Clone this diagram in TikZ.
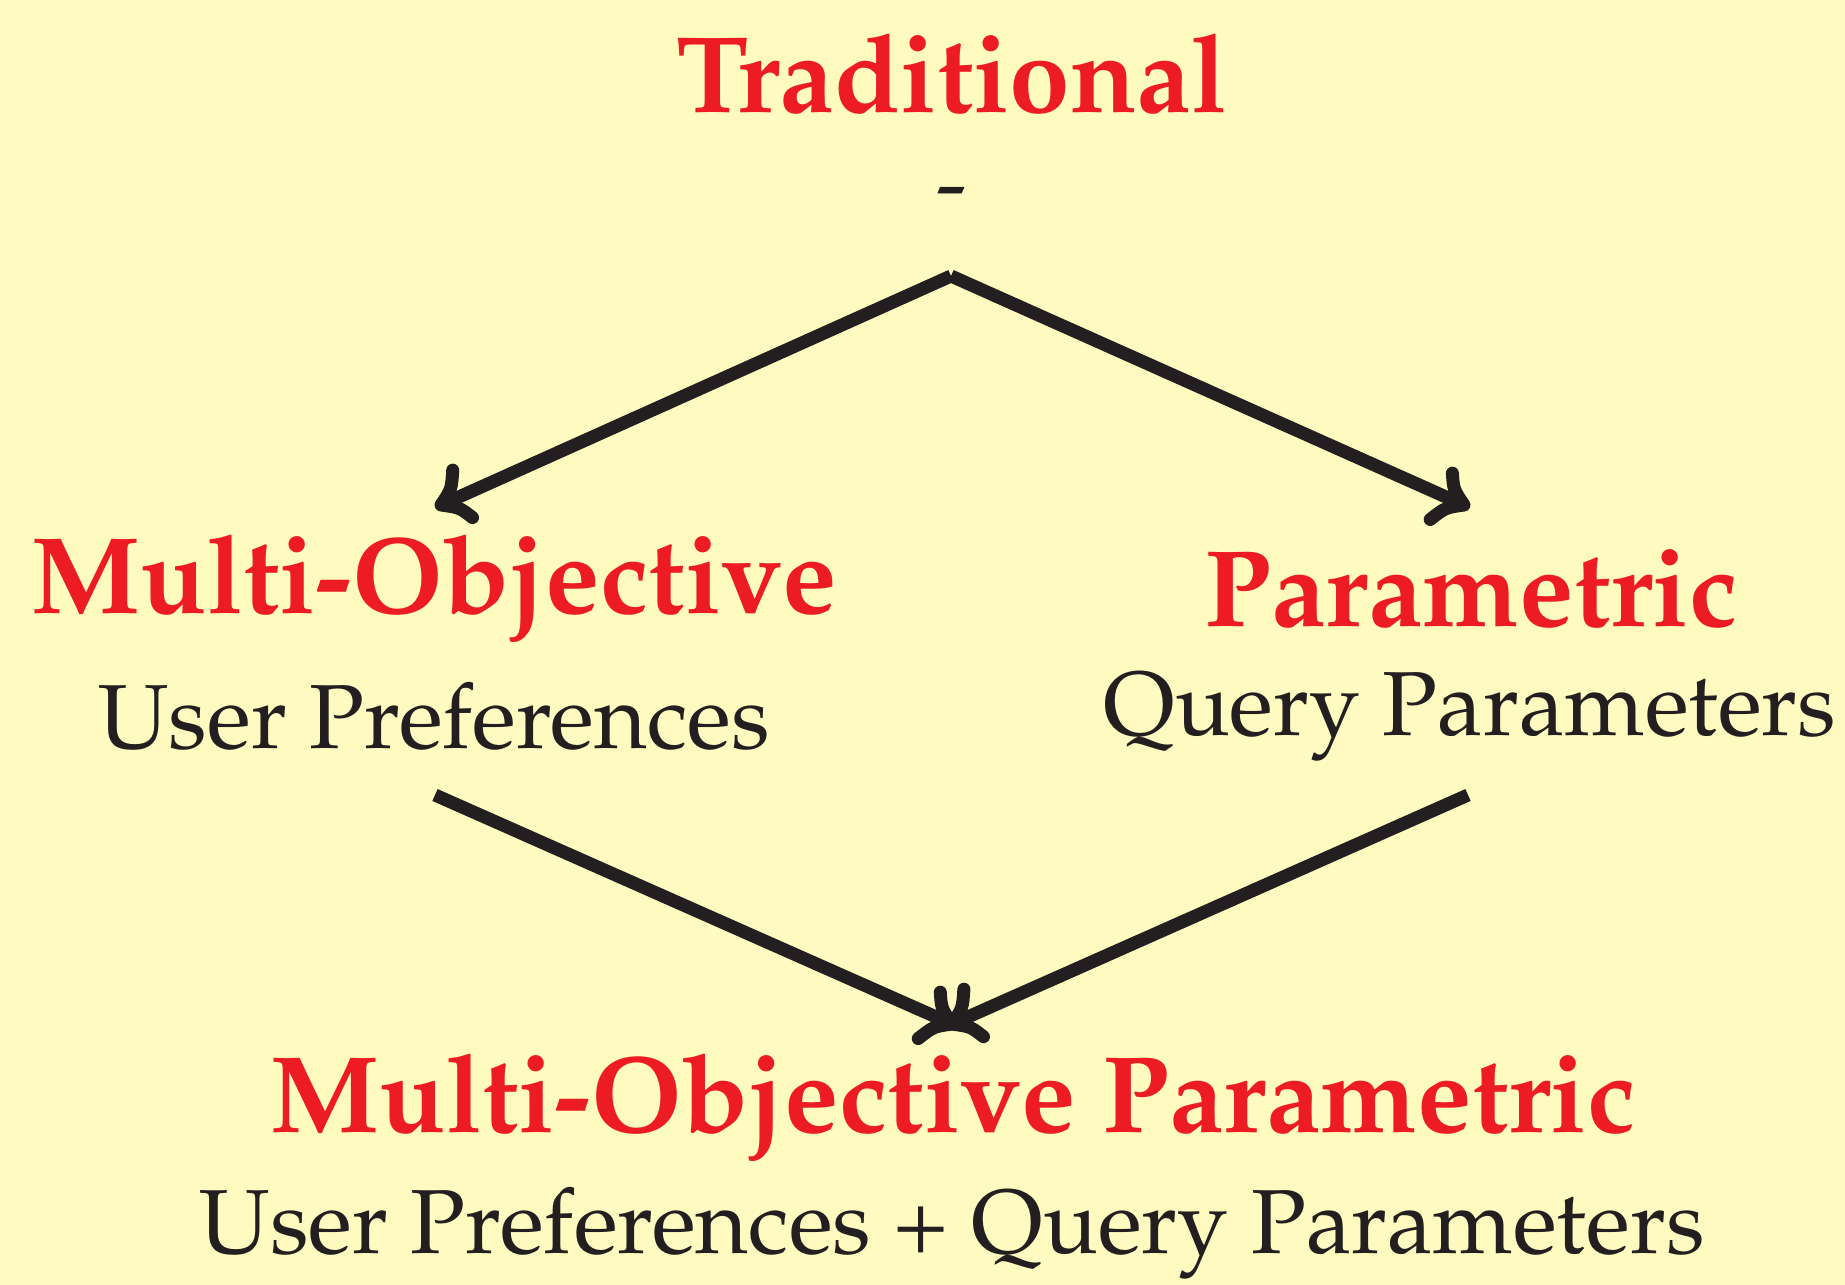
\documentclass[tikz,border=0pt]{standalone}
\usepackage[T1]{fontenc}
\renewcommand{\rmdefault}{ppl}
\definecolor{bgyellow}{RGB}{255,250,192}
\definecolor{titlered}{RGB}{237,28,36}
\definecolor{inkblack}{RGB}{35,31,32}
\begin{document}
\begin{tikzpicture}[x=1pt,y=-1pt,
  title/.style={text=titlered, font=\fontsize{109}{109}\selectfont\bfseries, anchor=base, inner sep=0pt},
  sub/.style={text=inkblack, font=\fontsize{91}{91}\selectfont, anchor=base, inner sep=0pt},
  link/.style={draw=inkblack, line width=13pt, line cap=butt, shorten >=3pt},
  % curved two-barb head, pointing along +x with its point at the origin
  pics/barbtip/.style={code={
    \draw[inkblack, line width=13pt, line cap=round, line join=round]
      (-25,27) .. controls (-16,10) .. (0,0) .. controls (-16,-10) .. (-25,-27);
  }}
]
% page background
\fill[bgyellow] (0,0) rectangle (1845,1285);
\useasboundingbox (0,0) rectangle (1845,1285);

% labels
\node[title] (trad) at (952,112) {Traditional};
\node[sub]   (tradsub) at (952,213) {-};
\node[title] (mo) at (434,613) {Multi-Objective};
\node[sub]   (mosub) at (434,748) {User Preferences};
\node[title] (par) at (1471,626) {Parametric};
\node[sub]   (parsub) at (1470,735) {Query Parameters};
\node[title] (mop) at (953,1132) {Multi-Objective Parametric};
\node[sub]   (mopsub) at (952,1253) {User Preferences + Query Parameters};

% connector end points
\coordinate (split) at (951,276);
\coordinate (moin) at (441,505);
\coordinate (parin) at (1464,505);
\coordinate (moout) at (435,795);
\coordinate (parout) at (1468,795);
\coordinate (merge) at (952,1024);

% connectors
\draw[link] (split) -- (moin) pic[pos=1, sloped, allow upside down]{barbtip};
\draw[link] (split) -- (parin) pic[pos=1, sloped, allow upside down]{barbtip};
\draw[link] (moout) -- (merge) pic[pos=1, sloped, allow upside down]{barbtip};
\draw[link] (parout) -- (merge) pic[pos=1, sloped, allow upside down]{barbtip};
\end{tikzpicture}
\end{document}
